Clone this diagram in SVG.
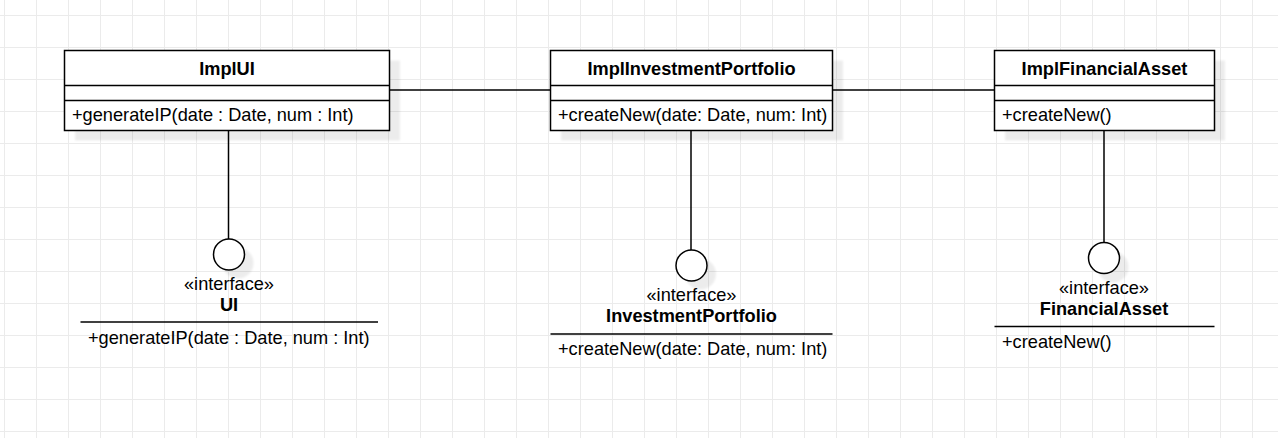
<svg xmlns="http://www.w3.org/2000/svg" width="1278" height="438" viewBox="0 0 1278 438">
<style>
text{font-family:"Liberation Sans",Arial,sans-serif;font-size:18.2px;fill:#000}
.b{font-weight:bold}
.c{text-anchor:middle}
.box{fill:#fff;stroke:#000;stroke-width:1.5}
.ln{stroke:#000;stroke-width:1.5;fill:none}
.sh{fill:#000;opacity:0.07}
</style>
<defs>
<pattern id="grid" patternUnits="userSpaceOnUse" x="4" y="15" width="32" height="32">
<path d="M0.5 0V32M0 0.5H32" stroke="#ebebeb" stroke-width="1" fill="none"/>
</pattern>
<filter id="blur" x="-10%" y="-10%" width="120%" height="120%"><feGaussianBlur stdDeviation="1"/></filter>
</defs>
<rect width="1278" height="438" fill="#fff"/>
<rect width="1278" height="438" fill="url(#grid)"/>

<g id="connectors">
<line class="ln" x1="389.5" y1="90" x2="550.5" y2="90"/>
<line class="ln" x1="832.5" y1="90" x2="994.5" y2="90"/>
<line class="ln" x1="228.5" y1="130.5" x2="228.5" y2="239"/>
<line class="ln" x1="691" y1="130.5" x2="691" y2="250"/>
<line class="ln" x1="1104" y1="130.5" x2="1104" y2="242.5"/>
</g>

<g id="ImplUI">
<rect class="sh" x="75" y="60.5" width="325" height="80" filter="url(#blur)"/>
<rect class="box" x="64.5" y="50.5" width="325" height="80"/>
<line class="ln" x1="64.5" y1="85.5" x2="389.5" y2="85.5"/>
<line class="ln" x1="64.5" y1="100.5" x2="389.5" y2="100.5"/>
<text class="b c" x="227" y="75">ImplUI</text>
<text x="72" y="121">+generateIP(date : Date, num : Int)</text>
</g>

<g id="ImplInvestmentPortfolio">
<rect class="sh" x="561" y="60.5" width="282" height="80" filter="url(#blur)"/>
<rect class="box" x="550.5" y="50.5" width="282" height="80"/>
<line class="ln" x1="550.5" y1="85.5" x2="832.5" y2="85.5"/>
<line class="ln" x1="550.5" y1="100.5" x2="832.5" y2="100.5"/>
<text class="b c" x="691.5" y="75">ImplInvestmentPortfolio</text>
<text x="558" y="121">+createNew(date: Date, num: Int)</text>
</g>

<g id="ImplFinancialAsset">
<rect class="sh" x="1005" y="60.5" width="220" height="80" filter="url(#blur)"/>
<rect class="box" x="994.5" y="50.5" width="220" height="80"/>
<line class="ln" x1="994.5" y1="85.5" x2="1214.5" y2="85.5"/>
<line class="ln" x1="994.5" y1="100.5" x2="1214.5" y2="100.5"/>
<text class="b c" x="1104.5" y="75">ImplFinancialAsset</text>
<text x="1002" y="121">+createNew()</text>
</g>

<g id="UI">
<circle class="sh" cx="238" cy="263" r="15.5" filter="url(#blur)"/>
<circle class="box" cx="229" cy="254.5" r="15.5"/>
<text class="c" x="229" y="289.5">«interface»</text>
<text class="b c" x="229" y="310.5">UI</text>
<line class="ln" x1="80.5" y1="322" x2="378" y2="322"/>
<text x="88" y="344">+generateIP(date : Date, num : Int)</text>
</g>

<g id="InvestmentPortfolio">
<circle class="sh" cx="700.5" cy="274" r="15.5" filter="url(#blur)"/>
<circle class="box" cx="691.5" cy="265.5" r="15.5"/>
<text class="c" x="691.5" y="301">«interface»</text>
<text class="b c" x="691.5" y="322">InvestmentPortfolio</text>
<line class="ln" x1="550.5" y1="334" x2="832.5" y2="334"/>
<text x="558" y="355">+createNew(date: Date, num: Int)</text>
</g>

<g id="FinancialAsset">
<circle class="sh" cx="1113" cy="267" r="15.5" filter="url(#blur)"/>
<circle class="box" cx="1104" cy="258" r="15.5"/>
<text class="c" x="1104" y="294">«interface»</text>
<text class="b c" x="1104" y="315">FinancialAsset</text>
<line class="ln" x1="994.5" y1="326.5" x2="1214.5" y2="326.5"/>
<text x="1002" y="348">+createNew()</text>
</g>
</svg>
